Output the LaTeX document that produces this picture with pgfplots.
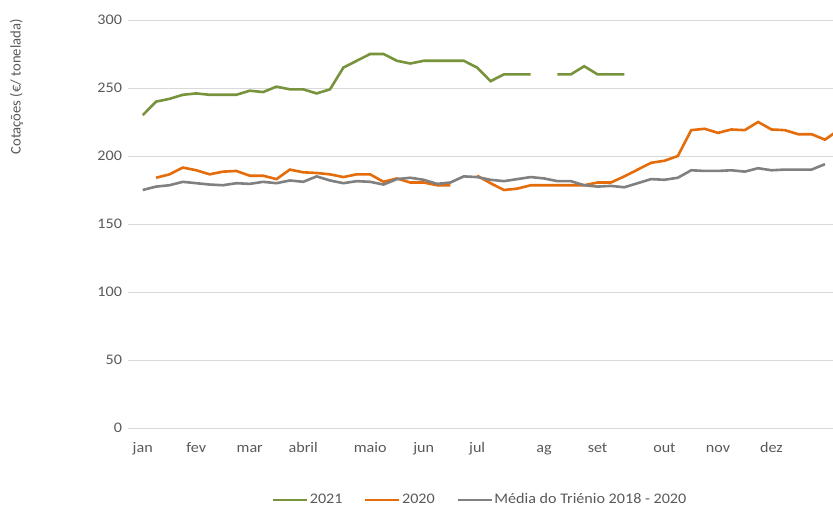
\documentclass[border=0pt]{standalone}
\usepackage{fontspec}
\setmainfont{Carlito}[FakeStretch=1.1]
\newfontfamily\plainfont{Carlito}
\usepackage{pgfplots}
\usepackage{pgfplotstable}
\pgfplotsset{compat=1.18}
\definecolor{cgreen}{HTML}{77933C}
\definecolor{corange}{HTML}{E46C0A}
\definecolor{cgray}{HTML}{808080}
\definecolor{ctext}{HTML}{595959}
\definecolor{cgrid}{HTML}{D9D9D9}
\pgfplotstableread{
x g o m
0 230 nan 175
1 240 184 177.5
2 242 186.5 178.5
3 245 191.5 181
4 246 189.5 180
5 245 186.5 179
6 245 188.5 178.5
7 245 189 180
8 248 185.5 179.5
9 247 185.5 181
10 251 183 180
11 249 190 182
12 249 188 181
13 246 187.5 185
14 249 186.5 182
15 265 184.5 180
16 270 186.5 181.5
17 275 186.5 181
18 275 181 179
19 270 183.5 183
20 268 180.5 184
21 270 180.5 182.5
22 270 178.5 179.5
23 270 178.5 180.5
24 270 nan 185
25 265 185.5 184.5
26 255 180 182.5
27 260 175 181.5
28 260 176 183
29 260 178.5 184.5
30 nan 178.5 183.5
31 260 178.5 181.5
32 260 178.5 181.5
33 266 178.5 178.5
34 260 180.5 177.5
35 260 180.5 178
36 260 185 177
37 nan 190 180
38 nan 195 183
39 nan 196.5 182.5
40 nan 200 184
41 nan 219 189.5
42 nan 220 189
43 nan 217 189
44 nan 219.5 189.5
45 nan 219 188.5
46 nan 225 191
47 nan 219.5 189.5
48 nan 219 190
49 nan 216 190
50 nan 216 190
51 nan 212 194
52 nan 219 nan
}\data
\begin{document}
\fontsize{14.7}{17}\selectfont
\begin{tikzpicture}[x=1bp,y=1bp]
\useasboundingbox (0,0) rectangle (833,508);
\begin{axis}[
  at={(128bp,80bp)}, anchor=south west,
  scale only axis, width=705bp, height=408bp,
  xmin=-1.1, xmax=51.6, ymin=0, ymax=300,
  ytick={0,50,...,300},
  xtick={0,4,8,12,17,21,25,30,34,39,43,47},
  xticklabels={jan,fev,mar,abril,maio,jun,jul,ag,set,out,nov,dez},
  axis line style={draw=none},
  major tick length=0pt,
  ymajorgrids, grid style={cgrid, line width=0.8bp},
  tick label style={text=ctext, font=\fontsize{14.7}{17}\selectfont},
  /pgf/number format/assume math mode=true,
  xticklabel style={anchor=base, yshift=-25bp},
  yticklabel style={xshift=-1bp},
  ylabel={Cotações (€/ tonelada)},
  ylabel style={at={(axis description cs:-0.158,0.836)}, anchor=center, text=ctext, font=\plainfont\fontsize{14.7}{17}\selectfont},
  unbounded coords=jump,
  legend columns=3,
  legend style={at={(axis description cs:0.499,-0.176)}, anchor=center, draw=none, fill=none, text=ctext, font=\fontsize{14.7}{17}\selectfont,
    nodes={inner xsep=1.5bp},
    /tikz/every even column/.append style={column sep=20bp}},
  legend image code/.code={\draw[#1, line width=2.6bp] (0bp,0bp) -- (34bp,0bp);},
  legend cell align=left,
]
\addplot[cgreen, line width=2.6bp] table[x=x,y=g] {\data};
\addlegendentry{2021}
\addplot[corange, line width=2.6bp] table[x=x,y=o] {\data};
\addlegendentry{2020}
\addplot[cgray, line width=2.6bp] table[x=x,y=m] {\data};
\addlegendentry{Média do Triénio 2018 - 2020}
\end{axis}
\end{tikzpicture}
\end{document}
